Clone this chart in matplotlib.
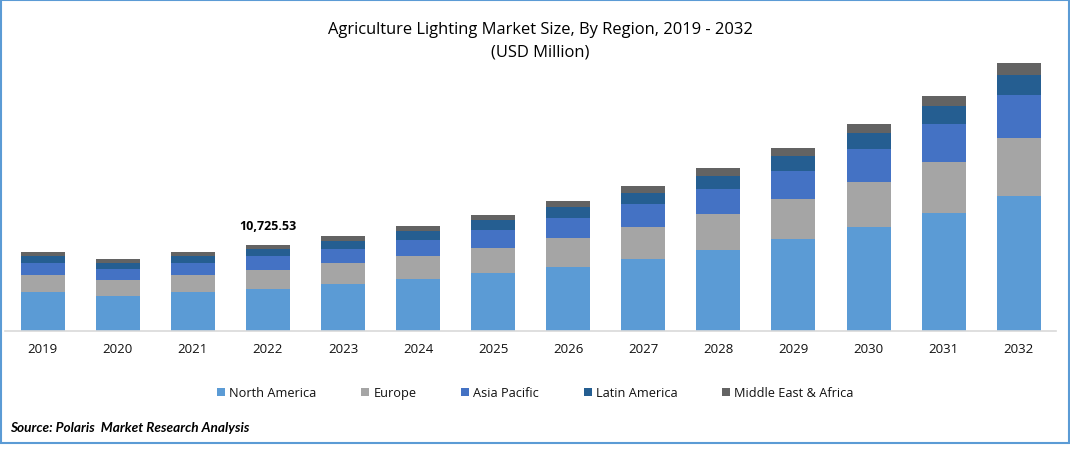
import numpy as np
import matplotlib
matplotlib.use("Agg")
import matplotlib.pyplot as plt
from matplotlib.patches import Rectangle

# values in USD million
years = ["2019", "2020", "2021", "2022", "2023", "2024", "2025", "2026",
        "2027", "2028", "2029", "2030", "2031", "2032"]
north_america = [4865, 4365, 4865, 5240, 5860, 6485, 7235, 7980, 8980, 10100,
        11470, 12970, 14715, 16835]
europe = [2120, 1995, 2120, 2370, 2620, 2870, 3120, 3615, 3990, 4490,
        4990, 5610, 6360, 7230]
asia_pacific = [1495, 1370, 1495, 1745, 1745, 1995, 2245, 2495, 2870, 3120,
        3490, 4115, 4740, 5360]
latin_america = [875, 750, 875, 870, 1000, 1120, 1245, 1370, 1370, 1620,
        1870, 1995, 2245, 2495]
middle_east = [500, 500, 500, 500.53, 625, 625, 625, 750, 875, 1000,
        1000, 1120, 1245, 1495]

series = [("North America", north_america, "#5b9bd5"),
        ("Europe", europe, "#a5a5a5"),
        ("Asia Pacific", asia_pacific, "#4472c4"),
        ("Latin America", latin_america, "#255e91"),
        ("Middle East & Africa", middle_east, "#636363")]

plt.rcParams["font.family"] = ["Open Sans", "DejaVu Sans"]

fig = plt.figure(figsize=(10.7, 4.6), dpi=100)
ax = fig.add_axes([5.2 / 1070, 128.2 / 460, 1051 / 1070, 281 / 460])

bottom = np.zeros(len(years))
for label, values, color in series:
    ax.bar(years, values, width=0.586, bottom=bottom, color=color, label=label)
    bottom += np.array(values)

ax.set_xlim(-0.5, 13.5)
ax.set_ylim(0, 35040)
ax.set_yticks([])
for side in ["top", "left", "right"]:
    ax.spines[side].set_visible(False)
ax.spines["bottom"].set_color("#d9d9d9")
ax.spines["bottom"].set_linewidth(1.2)
ax.tick_params(axis="x", length=0, pad=8, labelsize=9.5, labelcolor="#111111")

ax.annotate("10,725.53", (3, bottom[3]), xytext=(0, 9), textcoords="offset points",
        ha="center", va="bottom", fontsize=9, fontweight="bold", color="#000000")

fig.text(0.5047, 0.9355, "Agriculture Lighting Market Size, By Region, 2019 - 2032",
        ha="center", va="center", fontsize=11.9, color="#000000")
fig.text(0.5047, 0.886, "(USD Million)", ha="center", va="center", fontsize=11.9,
        color="#000000")

fig.legend(loc="center", bbox_to_anchor=(0.5005, 0.1435), ncol=5, frameon=False,
        fontsize=9.2, handlelength=0.63, handleheight=0.63, handletextpad=0.32,
        columnspacing=3.5, labelcolor="#111111")

fig.text(10 / 1070, 1 - 428 / 460, "Source: Polaris  Market Research Analysis",
        ha="left", va="center", fontsize=9.8, family="Lato", fontweight="bold",
        fontstyle="italic", color="#000000")

# blue frame around the whole picture
fig.add_artist(Rectangle((1 / 1070, 1 - 444 / 460), 1068 / 1070, 443 / 460,
        transform=fig.transFigure, fill=False, edgecolor="#5b9bd5", linewidth=1.5))

fig.savefig("out.png", dpi=100)
